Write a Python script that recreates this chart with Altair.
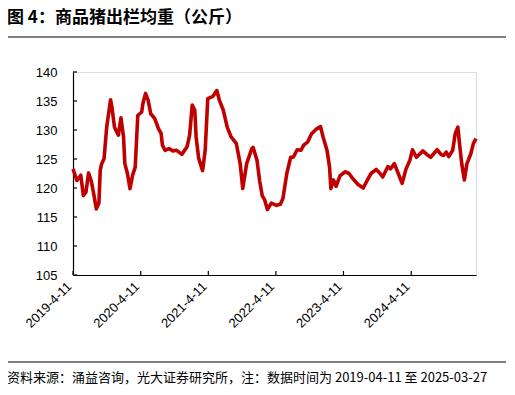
import altair as alt
import pandas as pd

title_text = "图 4：商品猪出栏均重（公斤）"
source_text = "资料来源：涌益咨询，光大证券研究所，注：数据时间为 2019-04-11 至 2025-03-27"

dates = [
    "2019-04-11", "2019-05-02", "2019-05-23", "2019-06-06", "2019-06-20", "2019-07-04",
    "2019-07-18", "2019-08-01", "2019-08-15", "2019-08-29", "2019-09-05", "2019-09-12",
    "2019-09-26", "2019-10-10", "2019-10-31", "2019-11-07", "2019-11-21", "2019-12-12",
    "2019-12-26", "2020-01-09", "2020-01-16", "2020-01-30", "2020-02-13", "2020-02-27",
    "2020-03-12", "2020-03-26", "2020-04-16", "2020-04-23", "2020-05-07", "2020-05-21",
    "2020-06-04", "2020-06-25", "2020-07-16", "2020-07-30", "2020-08-06", "2020-08-20",
    "2020-09-10", "2020-10-01", "2020-10-22", "2020-11-19", "2020-12-17", "2020-12-31",
    "2021-01-14", "2021-01-28", "2021-02-04", "2021-02-18", "2021-03-11", "2021-03-25",
    "2021-04-08", "2021-05-06", "2021-05-27", "2021-06-10", "2021-07-01", "2021-07-22",
    "2021-08-12", "2021-09-09", "2021-09-30", "2021-10-14", "2021-11-04", "2021-12-02",
    "2021-12-09", "2021-12-30", "2022-01-13", "2022-01-27", "2022-02-10", "2022-02-24",
    "2022-03-17", "2022-04-14", "2022-05-05", "2022-05-19", "2022-06-09", "2022-06-30",
    "2022-07-14", "2022-08-04", "2022-08-25", "2022-09-08", "2022-09-29", "2022-10-20",
    "2022-11-17", "2022-12-08", "2022-12-22", "2023-01-12", "2023-01-26", "2023-02-02",
    "2023-02-16", "2023-03-02", "2023-03-23", "2023-04-20", "2023-05-11", "2023-06-01",
    "2023-06-29", "2023-07-27", "2023-08-17", "2023-09-07", "2023-10-05", "2023-10-26",
    "2023-11-09", "2023-12-07", "2023-12-21", "2024-01-11", "2024-02-01", "2024-02-22",
    "2024-03-14", "2024-04-04", "2024-04-18", "2024-05-09", "2024-06-13", "2024-07-04",
    "2024-07-25", "2024-08-29", "2024-09-19", "2024-10-03", "2024-10-17", "2024-10-31",
    "2024-11-21", "2024-12-05", "2024-12-19", "2024-12-26", "2025-01-09", "2025-01-23",
    "2025-02-06", "2025-02-27", "2025-03-13", "2025-03-27",
]

weights = [
    123.3, 121.3, 122.2, 118.7, 119.3, 122.6,
    121.3, 119.0, 116.4, 117.4, 123.0, 124.1,
    125.1, 130.5, 135.2, 134.0, 130.5, 129.1,
    132.1, 128.8, 124.2, 122.5, 119.9, 122.2,
    123.6, 132.5, 133.1, 134.6, 136.3, 135.1,
    132.8, 132.0, 130.2, 129.4, 127.4, 126.5,
    126.8, 126.4, 126.5, 125.8, 127.1, 129.1,
    134.3, 133.4, 128.8, 125.1, 123.0, 126.5,
    135.4, 135.8, 136.8, 135.1, 133.4, 130.5,
    128.8, 127.7, 124.2, 119.9, 124.2, 126.8,
    127.0, 124.8, 121.3, 118.7, 117.9, 116.3,
    117.4, 117.0, 117.2, 118.2, 122.5, 125.3,
    125.3, 126.6, 126.5, 127.4, 127.9, 129.3,
    130.2, 130.6, 128.8, 126.5, 123.6, 119.9,
    121.4, 120.3, 122.1, 122.8, 122.5, 121.6,
    120.6, 120.0, 121.3, 122.5, 123.2, 122.5,
    121.9, 123.7, 123.3, 124.2, 122.5, 120.8,
    123.3, 124.8, 126.6, 125.3, 126.4, 125.8,
    125.3, 126.6, 125.8, 125.6, 126.2, 125.4,
    126.5, 129.4, 130.5, 128.2, 124.2, 121.4,
    124.2, 125.9, 127.7, 128.5,
]

x_ticks = ["2019-04-11", "2020-04-11", "2021-04-11", "2022-04-11", "2023-04-11", "2024-04-11"]
y_ticks = [105, 110, 115, 120, 125, 130, 135, 140]

W, H = 403, 203
CJK = "Noto Sans CJK SC"
NUM = "Liberation Sans"

df = pd.DataFrame({"date": dates, "weight": weights})

x_scale = alt.Scale(domain=["2019-04-11", "2025-03-27"], nice=False)
y_scale = alt.Scale(domain=[105, 140], nice=False, zero=False)

x_axis = alt.Axis(values=[alt.DateTime(year=int(d[:4]), month=4, date=11, utc=True) for d in x_ticks],
                  labelExpr="utcFormat(datum.value, '%Y-%-m-%-d')",
                  labelAngle=-45, labelAlign="right", labelBaseline="middle",
                  labelPadding=9, labelOffset=-4, labelOverlap=False, ticks=False,
                  grid=False, title=None,
                  domainColor="#000000", domainWidth=1.2,
                  labelFont=NUM, labelFontSize=13, labelColor="#000000")
y_axis = alt.Axis(values=y_ticks, ticks=False, grid=False, title=None,
                  labelPadding=16, labelOverlap=False, labelFlush=False,
                  domainColor="#000000", domainWidth=1.2,
                  labelFont=NUM, labelFontSize=13, labelColor="#000000")

line = alt.Chart(df).mark_line(color="#C00000", strokeWidth=3.6, strokeJoin="round").encode(
    x=alt.X("date:T", scale=x_scale, axis=x_axis),
    y=alt.Y("weight:Q", scale=y_scale, axis=y_axis),
)

xt = alt.Chart(pd.DataFrame({"t": x_ticks})).mark_rule(color="#000000", strokeWidth=1.2).encode(
    x=alt.X("t:T", scale=x_scale, axis=x_axis), y=alt.value(H), y2=alt.value(H - 4))
yt = alt.Chart(pd.DataFrame({"v": y_ticks})).mark_rule(color="#000000", strokeWidth=1.2).encode(
    y=alt.Y("v:Q", scale=y_scale, axis=y_axis), x=alt.value(0), x2=alt.value(4))

one = pd.DataFrame({"a": [0]})
title = alt.Chart(pd.DataFrame({"t": [title_text]})).mark_text(
    align="left", baseline="alphabetic", font=CJK, fontSize=17, fontWeight="bold", color="#000000"
).encode(text="t:N", x=alt.value(-66), y=alt.value(-49))
top_rule = alt.Chart(one).mark_rule(color="#000000", strokeWidth=1).encode(
    x=alt.value(-68), x2=alt.value(437), y=alt.value(-35))
bot_rule = alt.Chart(one).mark_rule(color="#000000", strokeWidth=1).encode(
    x=alt.value(-68), x2=alt.value(437), y=alt.value(290))
source = alt.Chart(pd.DataFrame({"t": [source_text]})).mark_text(
    align="left", baseline="alphabetic", font=CJK, fontSize=13, color="#000000"
).encode(text="t:N", x=alt.value(-66), y=alt.value(310))

chart = alt.layer(line, xt, yt, title, top_rule, bot_rule, source).properties(
    width=W, height=H,
    autosize=alt.AutoSizeParams(type="none"),
    padding={"left": 65, "top": 64, "right": 30, "bottom": 112},
).configure_view(stroke=None).configure(background="#ffffff")

chart.save("out.html", embed_options={"renderer": "svg", "actions": False})
